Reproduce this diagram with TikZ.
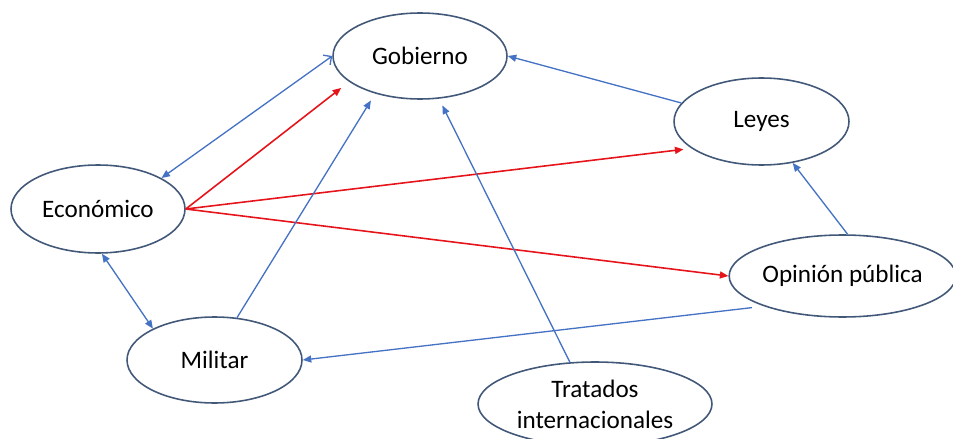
\documentclass[tikz,border=0pt]{standalone}
\usepackage{fontspec}
\setmainfont{Carlito}
\usetikzlibrary{arrows.meta,shapes.geometric}

\definecolor{borde}{RGB}{66,88,120}
\definecolor{azul}{RGB}{68,114,196}
\definecolor{rojo}{RGB}{230,20,26}

\begin{document}
\begin{tikzpicture}[
                    x=0.02cm, y=-0.02cm,
                    every node/.style={
                        ellipse,
                        draw=borde,
                        line width=0.9pt,
                        inner sep=0pt,
                        align=center,
                        font=\fontsize{14.3}{17.5}\selectfont
                    },
                    tip/.style={-{Triangle[length=1.7mm,width=1.4mm]}},
                    azl/.style={draw=azul, line width=0.75pt, tip},
                    roj/.style={draw=rojo, line width=0.9pt, tip}
                ]
                    \useasboundingbox (0,0) rectangle (953,439);

                    \node[minimum width=3.48cm, minimum height=1.72cm] (gob) at (420,56) {Gobierno};
                    \node[minimum width=3.5cm, minimum height=1.74cm] (ley) at (761.5,121.5) {Leyes};
                    \node[minimum width=3.48cm, minimum height=1.76cm] (eco) at (98,209) {Económico};
                    \node[minimum width=4.38cm, minimum height=1.64cm] (opi) at (842.5,276) {Opinión pública};
                    \node[minimum width=3.5cm, minimum height=1.72cm] (mil) at (214.5,360) {Militar};
                    \node[minimum width=4.68cm, minimum height=1.68cm] (tra) at (595,404) {Tratados\\internacionales};

                    % Edges
                    \draw[azl, {Triangle[length=1.7mm,width=1.4mm]}-{Straight Barb[length=1.2mm,width=2.4mm]}] (eco.26) -- (gob.west);
                    \draw[azl, {Triangle[length=1.7mm,width=1.4mm]}-{Triangle[length=1.7mm,width=1.4mm]}] (eco.275) -- (mil.153);
                    \draw[roj, shorten >=2mm] (eco.east) -- (gob.200);
                    \draw[roj, shorten >=1.6mm] (eco.east) -- (ley.201);
                    \draw[roj] (eco.east) -- (opi.west);
                    \draw[azl, shorten >=1.6mm] (mil.62) -- (gob.220);
                    \draw[azl, shorten >=1.5mm] (tra.121) -- (gob.294);
                    \draw[azl] (ley.167) -- (gob.east);
                    \draw[azl] (opi.83) -- (ley.307);
                    \draw[azl, shorten <=2.4mm] (opi.201) -- (mil.east);
                \end{tikzpicture}
\end{document}
